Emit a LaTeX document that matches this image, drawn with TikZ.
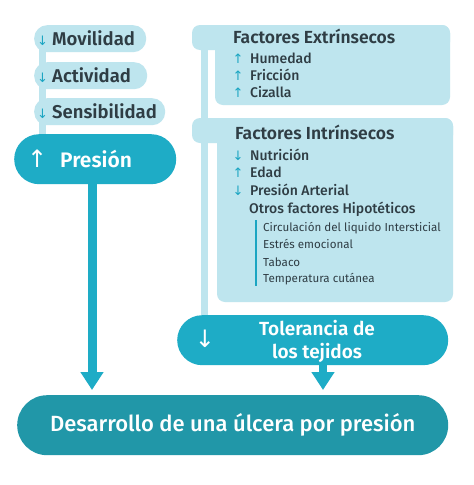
\documentclass[tikz,border=0pt]{standalone}
\usepackage{fontspec}
\setmainfont{Fira Sans}[BoldFont={* Medium}]
\newfontfamily\sbf{Fira Sans SemiBold}
\newfontfamily\mdf{Fira Sans Medium}
\newfontfamily\arrf{DejaVu Sans}
\usetikzlibrary{arrows.meta,calc}
\definecolor{lightb}{RGB}{190,229,238}
\definecolor{midb}{RGB}{30,172,198}
\definecolor{darkb}{RGB}{33,151,168}
\definecolor{txt}{RGB}{47,61,68}
\definecolor{arrc}{RGB}{27,165,194}
\newcommand\pdn{\makebox[15pt][l]{\color{arrc}\arrf\fontsize{13}{13}\selectfont ↓}}
\begin{document}
\begin{tikzpicture}[x=1pt,y=-1pt,
  pill/.style={fill=lightb, rounded corners=13pt, minimum height=27pt, inner xsep=3pt, inner ysep=0pt,
    anchor=north west, align=left, text=txt, font=\sbf\fontsize{18.5}{20}\selectfont},
  bigpill/.style={fill=midb, minimum height=50pt, rounded corners=25pt, inner sep=0pt, anchor=north west},
  panel/.style={fill=lightb, rounded corners=8pt},
  head/.style={anchor=base west, text=txt, font=\sbf\fontsize{17.5}{20}\selectfont, inner sep=0pt},
  item/.style={anchor=base west, text=txt, font=\mdf\fontsize{14}{16}\selectfont, inner sep=0pt},
  small/.style={anchor=base west, text=txt, font=\fontsize{11.6}{14}\selectfont, inner sep=0pt},
  iarr/.style={anchor=base, text=arrc, font=\arrf\fontsize{13}{13}\selectfont, inner sep=0pt},
  bigarr/.style={draw=midb, -{Triangle[width=22pt,length=18pt]}, shorten >=5pt}
]
\useasboundingbox[fill=white] (0,0) rectangle (474,485);

% left column connector bar
\fill[lightb] (39,45) rectangle (46,140);
\node[pill, minimum width=112pt, text width=106pt] (mov) at (34,25) {\pdn Movilidad};
\node[pill, minimum width=113pt, text width=107pt] (act) at (34,62) {\pdn Actividad};
\node[pill, minimum width=131pt, text width=125pt] (sen) at (34,98) {\pdn Sensibilidad};

% Presion
\node[bigpill, minimum width=149pt, text=white, align=left, text width=136pt, inner xsep=13pt,
  font=\sbf\fontsize{21}{24}\selectfont] (pres) at (14,134)
  {\makebox[33pt][l]{\arrf\fontsize{24}{24}\selectfont ↑}Presión};

% right column bar
\fill[lightb] (201,45) rectangle (208,318);
% Extrinsecos panel
\fill[panel] (192,25) rectangle (450,50);
\fill[panel] (215,25) rectangle (450,105);
\node[head] (ext) at (233,43) {Factores Extrínsecos};
\foreach \t/\yy [count=\i] in {Humedad/63, Fricción/80, Cizalla/97}{
  \node[iarr] (ea\i) at (238,\yy) {↑};
  \node[item] (e\i) at (250,\yy) {\t};
}
% Intrinsecos panel
\fill[panel] (192,118) rectangle (453,143);
\fill[panel] (217,118) rectangle (453,302);
\node[head] (int) at (235,139) {Factores Intrínsecos};
\foreach \a/\t/\yy [count=\i] in {↓/Nutrición/160, ↑/Edad/177, ↓/Presión Arterial/195}{
  \node[iarr] (ia\i) at (238,\yy) {\a};
  \node[item] (i\i) at (250,\yy) {\t};
}
\node[item] (otros) at (249,213) {Otros factores Hipotéticos};
\draw[arrc, line width=1.6pt] (256,220) -- (256,286);
\foreach \t/\yy [count=\i] in {Circulación del liquido Intersticial/231, Estrés emocional/248, Tabaco/266, Temperatura cutánea/282}{
  \node[small] (s\i) at (263,\yy) {\t};
}

% Tolerancia
\node[bigpill, minimum width=271pt] (tol) at (177,315) {};
\node[text=white, font=\arrf\fontsize{24}{24}\selectfont, inner sep=0pt] (tola) at (205,339) {↓};
\node[text=white, align=center, font=\sbf\fontsize{19}{23}\selectfont, inner sep=0pt] (tolt) at (317,341) {Tolerancia de\\los tejidos};

% bottom
\node[fill=darkb, minimum width=431pt, minimum height=60pt, rounded corners=30pt, inner sep=0pt,
  anchor=north west, text=white, font=\mdf\fontsize{22}{24}\selectfont] (bot) at (17,395)
  {Desarrollo de una úlcera por presión};

% arrows
\coordinate (ax1) at (92,0);
\coordinate (ax2) at (323,0);
\draw[bigarr, line width=9pt] (pres.south -| ax1) -- (bot.north -| ax1);
\draw[bigarr, line width=8pt] (tol.south -| ax2) -- (bot.north -| ax2);
\end{tikzpicture}
\end{document}
